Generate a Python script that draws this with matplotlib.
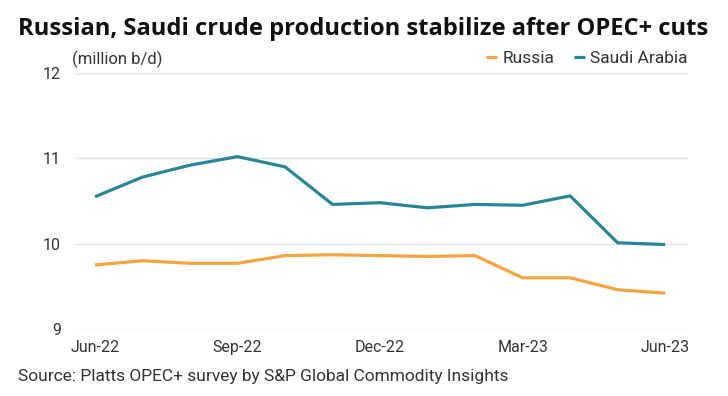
import matplotlib.pyplot as plt

plt.rcParams['font.family'] = ['Roboto', 'DejaVu Sans']

months = ["Jun-22", "Jul-22", "Aug-22", "Sep-22", "Oct-22", "Nov-22", "Dec-22",
          "Jan-23", "Feb-23", "Mar-23", "Apr-23", "May-23", "Jun-23"]
russia = [9.75, 9.80, 9.77, 9.77, 9.86, 9.87, 9.86, 9.85, 9.86, 9.60, 9.60, 9.46, 9.42]
saudi = [10.55, 10.78, 10.92, 11.02, 10.90, 10.46, 10.48, 10.42, 10.46, 10.45, 10.56, 10.01, 9.99]
tick_labels = ["Jun-22", "Sep-22", "Dec-22", "Mar-23", "Jun-23"]
y_ticks = [9, 10, 11, 12]

orange = "#F2A541"
teal = "#2A8599"
text_col = "#333333"

fig = plt.figure(figsize=(7.28, 3.96), dpi=100)
ax = fig.add_axes([75 / 728, 1 - 329 / 396, 613 / 728, 256 / 396])

x = list(range(len(months)))
ax.plot(x, russia, color=orange, lw=2.3, label="Russia", solid_capstyle="butt")
ax.plot(x, saudi, color=teal, lw=2.3, label="Saudi Arabia", solid_capstyle="butt")

ax.set_xlim(-0.42, 12.48)
ax.set_ylim(9, 12)
ax.set_yticks(y_ticks)
ax.set_xticks([months.index(m) for m in tick_labels])
ax.set_xticklabels(tick_labels)
ax.tick_params(length=0, labelsize=11.5, colors=text_col)
ax.tick_params(axis="y", pad=10)
ax.tick_params(axis="x", pad=8)
ax.grid(axis="y", color="#E3E3E3", lw=1)
ax.set_axisbelow(True)
for s in ax.spines.values():
    s.set_visible(False)

# タイトル・注記
fig.text(18 / 728, 1 - 35 / 396, "Russian, Saudi crude production stabilize after OPEC+ cuts",
         fontsize=17.1, fontweight="bold", family=["Open Sans", "DejaVu Sans"], va="baseline", color="#111111")
fig.text(72 / 728, 1 - 59 / 396, "(million b/d)", fontsize=12, va="center", color=text_col)
fig.text(18 / 728, 1 - 376 / 396, "Source: Platts OPEC+ survey by S&P Global Commodity Insights",
         fontsize=12.5, va="center", color=text_col)

leg = fig.legend(loc="center right", bbox_to_anchor=(688 / 728, 1 - 58 / 396), ncol=2, frameon=False,
                 fontsize=12.5, handlelength=0.65, handletextpad=0.3, columnspacing=1.15, borderpad=0,
                 borderaxespad=0)
for t in leg.get_texts():
    t.set_color(text_col)

fig.savefig("out.png", dpi=100)
